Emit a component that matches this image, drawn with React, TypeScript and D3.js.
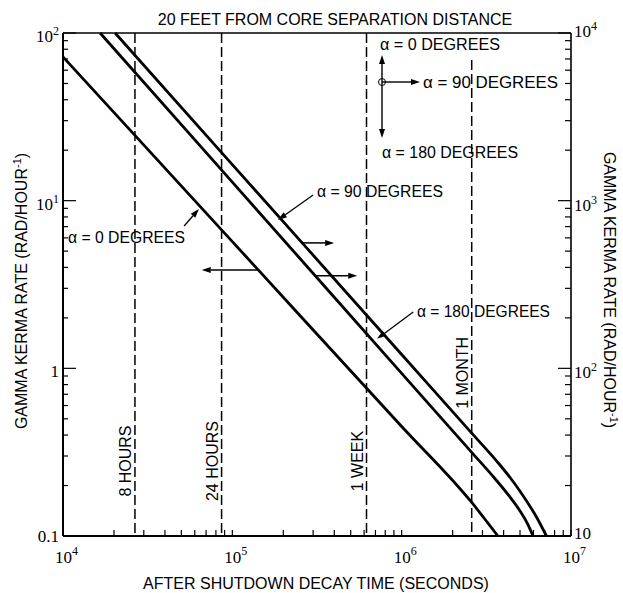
import React from "react";
import * as d3 from "d3";

// ---------- data ----------
const TITLE = "20 FEET FROM CORE SEPARATION DISTANCE";
const X_LABEL = "AFTER SHUTDOWN DECAY TIME (SECONDS)";
const Y_LABEL_BASE = "GAMMA KERMA RATE (RAD/HOUR";
const Y_LABEL_EXP = "-1";

const X_DOMAIN = [1e4, 1e7];
const Y_LEFT_DOMAIN = [0.1, 100];
const Y_RIGHT_DOMAIN = [10, 1e4];

const X_TICK_VALUES = [1e4, 1e5, 1e6, 1e7];
const X_TICK_EXPS = ["4", "5", "6", "7"];
const LEFT_TICK_VALUES = [0.1, 1, 10, 100];
const LEFT_TICK_BASES = ["0.1", "1", "10", "10"];
const LEFT_TICK_EXPS = ["", "", "1", "2"];
const RIGHT_TICK_VALUES = [10, 100, 1000, 10000];
const RIGHT_TICK_BASES = ["10", "10", "10", "10"];
const RIGHT_TICK_EXPS = ["", "2", "3", "4"];

const MARKER_LABELS = ["8 HOURS", "24 HOURS", "1 WEEK", "1 MONTH"];
const MARKER_TIMES = [2.66e4, 8.64e4, 6.2e5, 2.592e6];
const MARKER_TOP_RATES = [100, 100, 100, 69];
const MARKER_LABEL_RATES = [0.28, 0.28, 0.28, 0.94];

// alpha = 0 degrees (read on left axis)
const A0_TIME = [1e4, 1e5, 1e6, 2.6e6, 3.2e6, 3.7e6];
const A0_RATE = [72, 5.7, 0.45, 0.158, 0.121, 0.1];
// alpha = 180 degrees
const A180_TIME = [1.656e4, 1e5, 1e6, 2.6e6, 3.5e6, 4.3e6, 5.0e6, 5.56e6, 5.97e6];
const A180_RATE = [100, 12.9, 0.933, 0.314, 0.224, 0.174, 0.141, 0.1175, 0.1];
// alpha = 90 degrees
const A90_TIME = [2.03e4, 1e5, 1e6, 2.6e6, 3.66e6, 4.4e6, 5.0e6, 6.3e6, 7.16e6];
const A90_RATE = [100, 16.4, 1.21, 0.409, 0.278, 0.221, 0.185, 0.128, 0.1];

// axis-reading arrows: rate level and head time
const AXIS_ARROW_RATES = [3.86, 5.6, 3.56];
const AXIS_ARROW_HEAD_TIMES = [6.6e4, 3.99e5, 5.46e5];

// callouts
const CALLOUT_TEXTS = ["\u03B1 = 0 DEGREES", "\u03B1 = 90 DEGREES", "\u03B1 = 180 DEGREES"];
const CALLOUT_TAIL = [[5.19e4, 7.06], [3.0e5, 10.8], [1.17e6, 2.17]];
const CALLOUT_HEAD = [[6.35e4, 8.93], [1.86e5, 7.67], [7.16e5, 1.5]];

const LEGEND_TEXTS = ["\u03B1 = 0 DEGREES", "\u03B1 = 90 DEGREES", "\u03B1 = 180 DEGREES"];

// ---------- layout ----------
const W = 623;
const H = 593;
const L = 63, R = 571, T = 33, B = 536;
const SANS = "'Liberation Sans', Arial, sans-serif";
const SERIF = "'Liberation Serif', 'Times New Roman', serif";

function timeAtRate(times: number[], rates: number[], r: number) {
  for (let i = 0; i < rates.length - 1; i++) {
    const a = rates[i], b = rates[i + 1];
    if ((a >= r && b <= r) || (a <= r && b >= r)) {
      const f = (Math.log10(r) - Math.log10(a)) / (Math.log10(b) - Math.log10(a));
      return Math.pow(10, Math.log10(times[i]) + f * (Math.log10(times[i + 1]) - Math.log10(times[i])));
    }
  }
  return times[0];
}

function Arrow({ x1, y1, x2, y2, len = 9, half = 3, sw = 1.5 }: any) {
  const dx = x2 - x1, dy = y2 - y1;
  const d = Math.hypot(dx, dy) || 1;
  const ux = dx / d, uy = dy / d;
  const bx = x2 - ux * len, by = y2 - uy * len;
  const pts = `${x2},${y2} ${bx - uy * half},${by + ux * half} ${bx + uy * half},${by - ux * half}`;
  return (
    <g>
      <line x1={x1} y1={y1} x2={bx} y2={by} stroke="#000" strokeWidth={sw} />
      <polygon points={pts} fill="#000" />
    </g>
  );
}

export default function App() {
  const x = d3.scaleLog().domain(X_DOMAIN).range([L, R]);
  const yL = d3.scaleLog().domain(Y_LEFT_DOMAIN).range([B, T]);
  const yR = d3.scaleLog().domain(Y_RIGHT_DOMAIN).range([B, T]);
  const line = d3
    .line<[number, number]>()
    .x((d) => x(d[0]))
    .y((d) => yL(d[1]))
    .curve(d3.curveMonotoneX);

  const series = [
    { t: A0_TIME, r: A0_RATE },
    { t: A180_TIME, r: A180_RATE },
    { t: A90_TIME, r: A90_RATE },
  ];
  const arrowSeries = [series[0], series[2], series[1]];

  const isMajor = (v: number) => Math.abs(Math.log10(v) - Math.round(Math.log10(v))) < 1e-6;

  const leftTicks = yL.ticks();
  const rightTicks = yR.ticks();
  const bottomTicks = x.ticks();

  const lx = 382, ly = 82;
  const annSize = 16;
  const calloutWidths = [117, 126, 133];
  const calloutPos = [
    [68, 243],
    [317, 197],
    [417, 317],
  ];

  return (
    <svg
      width={W}
      height={H}
      style={{ position: "absolute", left: 0, top: 0, background: "#fff" }}
    >
      <rect x={0} y={0} width={W} height={H} fill="#fff" />

      {/* title */}
      <text x={335} y={25} textAnchor="middle" fontFamily={SANS} fontSize={16}>
        {TITLE}
      </text>

      {/* frame */}
      <line x1={L} y1={T} x2={R} y2={T} stroke="#000" strokeWidth={1.6} />
      <line x1={L} y1={T} x2={L} y2={B} stroke="#000" strokeWidth={2} />
      <line x1={R} y1={T} x2={R} y2={B} stroke="#000" strokeWidth={1.6} />
      <line x1={L} y1={B} x2={R} y2={B} stroke="#000" strokeWidth={2} />

      {/* ticks */}
      {leftTicks.map((v, i) => (
        <line key={"lt" + i} x1={L} x2={L + (isMajor(v) ? 13 : 5)} y1={yL(v)} y2={yL(v)} stroke="#000" strokeWidth={1.2} />
      ))}
      {rightTicks.map((v, i) => (
        <line key={"rt" + i} x1={R} x2={R - (isMajor(v) ? 13 : 6)} y1={yR(v)} y2={yR(v)} stroke="#000" strokeWidth={1.2} />
      ))}
      {bottomTicks.map((v, i) => (
        <line key={"bt" + i} x1={x(v)} x2={x(v)} y1={B} y2={B - 6} stroke="#000" strokeWidth={1.2} />
      ))}

      {/* left tick labels */}
      {LEFT_TICK_VALUES.map((v, i) => (
        <text key={"ll" + i} x={L - 4} y={yL(v) + (i === 0 ? 6 : 9)} textAnchor="end" fontFamily={SERIF} fontSize={17}>
          {LEFT_TICK_BASES[i]}
          {LEFT_TICK_EXPS[i] && (
            <tspan dy={-7} fontSize={12}>
              {LEFT_TICK_EXPS[i]}
            </tspan>
          )}
        </text>
      ))}
      {/* right tick labels */}
      {RIGHT_TICK_VALUES.map((v, i) => (
        <text key={"rl" + i} x={R + 3} y={yR(v) + (i === 0 ? 3 : i === 3 ? 4 : 10)} fontFamily={SERIF} fontSize={17}>
          {RIGHT_TICK_BASES[i]}
          {RIGHT_TICK_EXPS[i] && (
            <tspan dy={-7} fontSize={12}>
              {RIGHT_TICK_EXPS[i]}
            </tspan>
          )}
        </text>
      ))}
      {/* bottom tick labels */}
      {X_TICK_VALUES.map((v, i) => (
        <text key={"xl" + i} x={x(v) - 8} y={563} fontFamily={SERIF} fontSize={17}>
          10
          <tspan dy={-8} fontSize={12}>
            {X_TICK_EXPS[i]}
          </tspan>
        </text>
      ))}

      {/* axis titles */}
      <text x={316} y={589} textAnchor="middle" fontFamily={SANS} fontSize={16}>
        {X_LABEL}
      </text>
      <text transform="translate(27,291) rotate(-90)" textAnchor="middle" fontFamily={SANS} fontSize={16}>
        {Y_LABEL_BASE}
        <tspan dy={-6} fontSize={11}>
          {Y_LABEL_EXP}
        </tspan>
        <tspan dy={6}>)</tspan>
      </text>
      <text transform="translate(604,290) rotate(90)" textAnchor="middle" fontFamily={SANS} fontSize={16}>
        {Y_LABEL_BASE}
        <tspan dy={-6} fontSize={11}>
          {Y_LABEL_EXP}
        </tspan>
        <tspan dy={6}>)</tspan>
      </text>

      {/* time markers */}
      {MARKER_TIMES.map((t, i) => (
        <g key={"mk" + i}>
          <line
            x1={x(t)}
            x2={x(t)}
            y1={yL(MARKER_TOP_RATES[i])}
            y2={B}
            stroke="#000"
            strokeWidth={1.5}
            strokeDasharray="10 4"
          />
          <text
            transform={`translate(${x(t) - 4},${yL(MARKER_LABEL_RATES[i])}) rotate(-90)`}
            textAnchor="middle"
            fontFamily={SANS}
            fontSize={16}
          >
            {MARKER_LABELS[i]}
          </text>
        </g>
      ))}

      {/* curves */}
      {series.map((s, i) => (
        <path
          key={"s" + i}
          d={line(s.t.map((t, j) => [t, s.r[j]] as [number, number])) || ""}
          fill="none"
          stroke="#000"
          strokeWidth={2.8}
        />
      ))}

      {/* axis-reading arrows */}
      {AXIS_ARROW_RATES.map((r, i) => {
        const s = arrowSeries[i];
        const t0 = timeAtRate(s.t, s.r, r);
        return (
          <Arrow key={"aa" + i} x1={x(t0)} y1={yL(r)} x2={x(AXIS_ARROW_HEAD_TIMES[i])} y2={yL(r)} />
        );
      })}

      {/* callouts */}
      {CALLOUT_TEXTS.map((txt, i) => (
        <g key={"co" + i}>
          <text
            x={calloutPos[i][0]}
            y={calloutPos[i][1]}
            fontFamily={SANS}
            fontSize={annSize}
            textLength={calloutWidths[i]}
            lengthAdjust="spacingAndGlyphs"
          >
            {txt}
          </text>
          <Arrow
            x1={x(CALLOUT_TAIL[i][0])}
            y1={yL(CALLOUT_TAIL[i][1])}
            x2={x(CALLOUT_HEAD[i][0])}
            y2={yL(CALLOUT_HEAD[i][1])}
            sw={1.3}
          />
        </g>
      ))}

      {/* orientation legend */}
      <circle cx={lx} cy={ly} r={3.5} fill="none" stroke="#000" strokeWidth={1} />
      <Arrow x1={lx} y1={ly} x2={lx} y2={ly - 27} sw={1.4} />
      <Arrow x1={lx} y1={ly} x2={lx} y2={ly + 56} sw={1.4} />
      <Arrow x1={lx} y1={ly} x2={lx + 38} y2={ly} sw={1.4} />
      <text x={380} y={50} fontFamily={SANS} fontSize={annSize} textLength={120} lengthAdjust="spacingAndGlyphs">
        {LEGEND_TEXTS[0]}
      </text>
      <text x={423} y={88} fontFamily={SANS} fontSize={annSize} textLength={135} lengthAdjust="spacingAndGlyphs">
        {LEGEND_TEXTS[1]}
      </text>
      <text x={382} y={158} fontFamily={SANS} fontSize={annSize} textLength={136} lengthAdjust="spacingAndGlyphs">
        {LEGEND_TEXTS[2]}
      </text>
    </svg>
  );
}
